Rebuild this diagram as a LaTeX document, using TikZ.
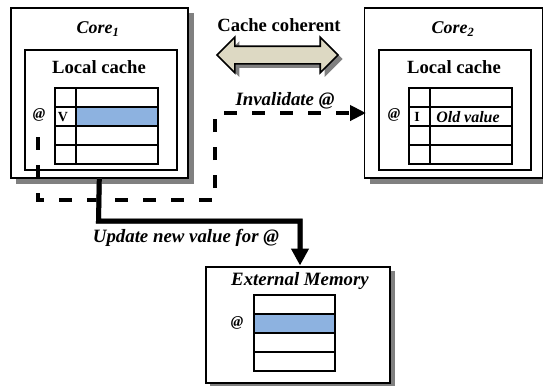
\documentclass[tikz,border=0pt]{standalone}
\usepackage{fontspec}
\setmainfont{Liberation Serif}
\usetikzlibrary{arrows.meta,shapes.arrows}
\definecolor{cellblue}{RGB}{141,178,224}
\definecolor{tanfill}{RGB}{221,217,195}
\definecolor{shadowgray}{RGB}{128,128,128}
\newcommand{\fs}[1]{\fontsize{#1}{#1}\selectfont}
\tikzset{
  x=1bp,y=-1bp,
  shadowfill/.style={fill=shadowgray,draw=none,anchor=north west,inner sep=0pt},
  plainbox/.style={draw=black,fill=white,line width=1.6bp,anchor=north west,inner sep=0pt},
  cell/.style={draw=black,line width=1.6bp,anchor=north west,inner sep=0pt,minimum height=19bp},
  flagcell/.style={cell,minimum width=21bp},
  widecell/.style={cell,minimum width=82bp},
  bluecell/.style={fill=cellblue},
  title/.style={font=\fs{18.7}\bfseries,inner sep=0pt},
  ititle/.style={font=\fs{18.9}\bfseries\itshape,inner sep=0pt},
  coretitle/.style={font=\fs{18}\bfseries\itshape,inner sep=0pt},
  atlabel/.style={font=\fs{15}\bfseries\itshape,inner sep=0pt},
  dashline/.style={line width=4bp,dash pattern=on 13bp off 15bp,-{Triangle[length=16bp,width=15bp]}},
  thickline/.style={line width=5bp,-{Triangle[length=17bp,width=17bp]}},
}
\begin{document}
\begin{tikzpicture}
\useasboundingbox (0,0) rectangle (543,385);
% Core 1
\node[shadowfill,minimum width=178bp,minimum height=171bp] (core1s) at (16,13) {};
\node[plainbox,minimum width=177bp,minimum height=170bp] (core1) at (10,7) {};
\node[plainbox,minimum width=152bp,minimum height=120bp] (local1) at (24,49) {};
\node[coretitle] (core1t) at (98,29) {Core\textsubscript{1}};
\node[title] (lc1) at (99,67) {Local cache};
\foreach \i/\y in {1/87,2/106,3/125,4/144}{
  \node[flagcell] (af\i) at (54,\y) {};
  \node[widecell] (aw\i) at (75,\y) {};
}
\node[widecell,bluecell] at (aw2.north west) {};
\node[title,font=\fs{14}\bfseries] (v) at (63,117) {V};
\node[atlabel] (at1) at (39,115) {@};
% Core 2
\node[shadowfill,minimum width=179bp,minimum height=171bp] (core2s) at (369.5,13) {};
\node[plainbox,minimum width=178bp,minimum height=170bp] (core2) at (363.5,7) {};
\node[plainbox,minimum width=152bp,minimum height=120bp] (local2) at (378,49) {};
\node[coretitle] (core2t) at (453,29) {Core\textsubscript{2}};
\node[title] (lc2) at (454,67) {Local cache};
\foreach \i/\y in {1/87,2/106,3/125,4/144}{
  \node[flagcell] (bf\i) at (408,\y) {};
  \node[widecell] (bw\i) at (429,\y) {};
}
\node[title,font=\fs{14}\bfseries] (i) at (417,117) {I};
\node[font=\fs{16}\bfseries\itshape,inner sep=0pt] (old) at (468,117) {Old value};
\node[atlabel] (at2) at (394,115) {@};
% Memory
\node[shadowfill,minimum width=185bp,minimum height=117bp] (mems) at (210,271) {};
\node[plainbox,minimum width=184bp,minimum height=116bp] (mem) at (205,266) {};
\node[ititle] (memt) at (300,281) {External Memory};
\foreach \i/\y in {1/294,2/313,3/332,4/351}{
  \node[cell,minimum width=81bp] (mw\i) at (253,\y) {};
}
\node[cell,minimum width=81bp,bluecell] at (mw2.north west) {};
\node[atlabel] (at3) at (237,323) {@};
% Coherent arrow
\tikzset{coh/.style={double arrow,minimum height=121bp,minimum width=34bp,inner sep=8bp,
  double arrow head extend=9bp,double arrow head indent=0pt,line width=1.6bp}}
\node[coh,fill=shadowgray] (cohs) at (282,59) {};
\node[coh,draw=black,fill=tanfill] (coh) at (277.5,55) {};
\node[title] (coht) at (279,25) {Cache coherent};
% Connectors
\coordinate (d1) at (38,137);
\coordinate (d2) at (38,200);
\coordinate (d3) at (215,200);
\coordinate (d4) at (215,113);
\coordinate (d5) at (366,113);
\draw[dashline] (d1) -- (d2) -- (d3) -- (d4) -- (d5);
\coordinate (t1) at (98.5,221);
\coordinate (t2) at (300,221);
\coordinate (t3) at (300,265.5);
\draw[shadowgray,line width=5bp,shift={(1.5,1.5)}] (core1.south) -- (t1) -- (t2) -- ++(0,28);
\draw[thickline] (core1.south) -- (t1) -- (t2) -- (t3);
\node[ititle] (inv) at (285,101) {Invalidate @};
\node[ititle] (upd) at (186,238) {Update new value for @};
\end{tikzpicture}
\end{document}
